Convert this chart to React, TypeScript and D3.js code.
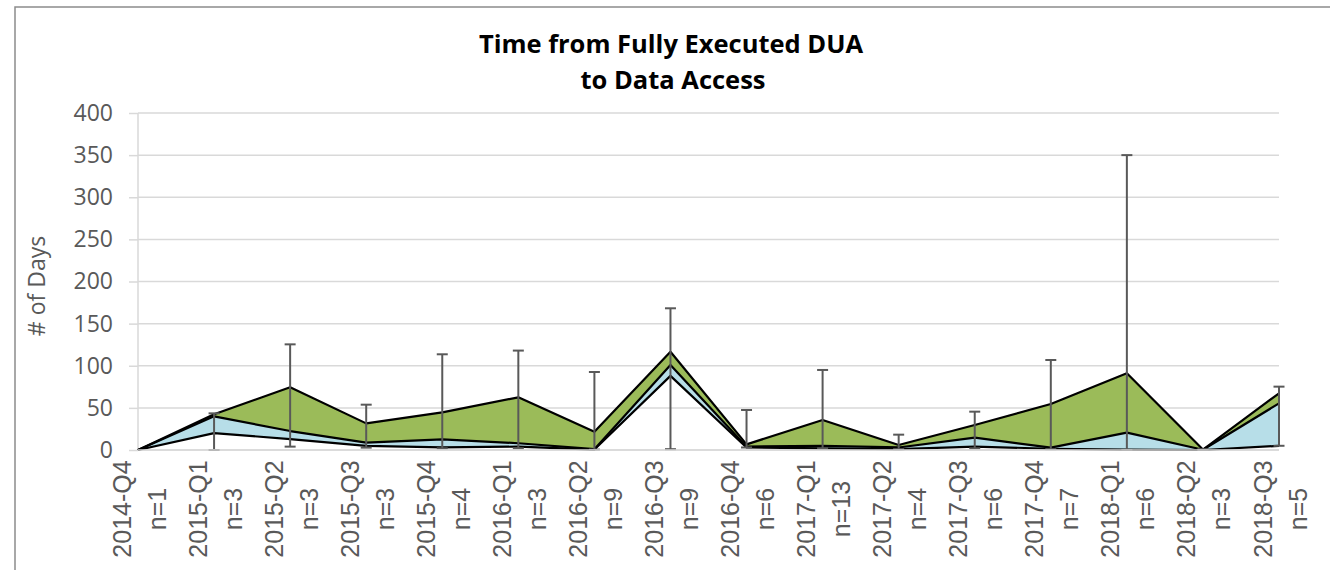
import React, { useEffect, useRef } from 'react';
import * as d3 from 'd3';

const categories = [
  '2014-Q4', '2015-Q1', '2015-Q2', '2015-Q3', '2015-Q4',
  '2016-Q1', '2016-Q2', '2016-Q3', '2016-Q4',
  '2017-Q1', '2017-Q2', '2017-Q3', '2017-Q4',
  '2018-Q1', '2018-Q2', '2018-Q3',
];
const counts = [1, 3, 3, 3, 4, 3, 9, 9, 6, 13, 4, 6, 7, 6, 3, 5];

// lower line, median (top of blue), upper (top of green)
const lowerValues = [0, 20, 13, 5, 3, 4, 0.5, 88, 3, 2, 1, 4, 1.5, 0.5, 0, 5];
const medianValues = [0, 40, 22.5, 8.7, 12.7, 8, 1, 101, 4, 5, 3, 14.6, 2.8, 20.6, 0.3, 55.4];
const upperValues = [0, 42.5, 74.4, 31.6, 44.7, 62.5, 21.8, 116.7, 6.7, 35.6, 6, 29.7, 54.6, 91, 0.5, 67.3];
// error bar ends
const minValues = [0, 0, 4, 2.8, 2, 2, 0.5, 1, 3, 2, 1, 2, 1, 0, 0, 5];
const maxValues = [0, 43.5, 125.4, 53.8, 113.6, 118, 92.6, 168.2, 47.5, 95, 18.2, 45.5, 106.8, 350, 1, 75.2];

const yTicks = [0, 50, 100, 150, 200, 250, 300, 350, 400];

export default function App() {
  const svgRef = useRef<SVGSVGElement>(null);

  useEffect(() => {
    const svg = d3.select(svgRef.current);
    svg.selectAll('*').remove();

    const left = 138;
    const right = 1279;
    const top = 113;
    const bottom = 450;

    const data = categories.map((c, i) => ({
      label: c,
      n: counts[i],
      lo: lowerValues[i],
      med: medianValues[i],
      hi: upperValues[i],
      min: minValues[i],
      max: maxValues[i],
    }));

    const xScale = d3.scalePoint().domain(categories).range([left, right]);
    const yScale = d3.scaleLinear().domain([0, 400]).range([bottom, top]);

    // frame
    svg
      .append('rect')
      .attr('x', 15)
      .attr('y', 7)
      .attr('width', 1340)
      .attr('height', 600)
      .attr('fill', 'white')
      .attr('stroke', '#8c8c8c')
      .attr('stroke-width', 1.5);

    // title
    const title = svg
      .append('text')
      .attr('text-anchor', 'middle')
      .style('font-family', 'Open Sans')
      .style('font-weight', '700')
      .style('font-size', '25.5px')
      .attr('fill', '#000');
    title.append('tspan').attr('x', 671).attr('y', 53).text('Time from Fully Executed DUA');
    title.append('tspan').attr('x', 673).attr('y', 89).text('to Data Access');

    // y axis
    const yAxis = svg
      .append('g')
      .attr('transform', `translate(${left}, 0)`)
      .call(
        d3
          .axisLeft(yScale)
          .tickValues(yTicks)
          .tickSize(9)
          .tickPadding(16)
      );
    yAxis.select('path').remove();
    yAxis.selectAll('line').attr('stroke', '#d9d9d9').attr('stroke-width', 1.5);
    yAxis
      .selectAll('text')
      .style('font-family', 'Open Sans')
      .style('font-size', '23px')
      .attr('fill', '#595959');

    // gridlines
    svg
      .append('g')
      .selectAll('line')
      .data(yTicks)
      .join('line')
      .attr('x1', left)
      .attr('x2', right)
      .attr('y1', (d) => yScale(d))
      .attr('y2', (d) => yScale(d))
      .attr('stroke', '#d9d9d9')
      .attr('stroke-width', 1.5);

    svg
      .append('line')
      .attr('x1', left)
      .attr('x2', left)
      .attr('y1', yScale(400))
      .attr('y2', yScale(0))
      .attr('stroke', '#d9d9d9')
      .attr('stroke-width', 1.5);

    svg
      .append('text')
      .attr('transform', `translate(45, 286) rotate(-90)`)
      .attr('text-anchor', 'middle')
      .style('font-family', 'Open Sans')
      .style('font-size', '23px')
      .attr('fill', '#595959')
      .text('# of Days');

    // areas
    const blueArea = d3
      .area<any>()
      .x((d) => xScale(d.label))
      .y0((d) => yScale(d.lo))
      .y1((d) => yScale(d.med));
    const greenArea = d3
      .area<any>()
      .x((d) => xScale(d.label))
      .y0((d) => yScale(d.med))
      .y1((d) => yScale(d.hi));

    svg.append('path').datum(data).attr('d', blueArea).attr('fill', '#b7dee8');
    svg.append('path').datum(data).attr('d', greenArea).attr('fill', '#9bbb59');

    const lineFor = (key: string) =>
      d3
        .line<any>()
        .x((d) => xScale(d.label))
        .y((d) => yScale(d[key]));

    ['lo', 'med', 'hi'].forEach((key) => {
      svg
        .append('path')
        .datum(data)
        .attr('d', lineFor(key))
        .attr('fill', 'none')
        .attr('stroke', '#000')
        .attr('stroke-width', 2.2)
        .attr('stroke-linejoin', 'round');
    });

    // error bars
    const bars = svg
      .append('g')
      .selectAll('g')
      .data(data.filter((d) => d.max > 0))
      .join('g')
      .attr('stroke', '#595959')
      .attr('stroke-width', 2);
    bars
      .append('line')
      .attr('x1', (d) => xScale(d.label))
      .attr('x2', (d) => xScale(d.label))
      .attr('y1', (d) => yScale(d.min))
      .attr('y2', (d) => yScale(d.max));
    bars
      .append('line')
      .attr('x1', (d) => xScale(d.label) - 5.5)
      .attr('x2', (d) => xScale(d.label) + 5.5)
      .attr('y1', (d) => yScale(d.max))
      .attr('y2', (d) => yScale(d.max));
    bars
      .append('line')
      .attr('x1', (d) => xScale(d.label) - 5.5)
      .attr('x2', (d) => xScale(d.label) + 5.5)
      .attr('y1', (d) => yScale(d.min))
      .attr('y2', (d) => yScale(d.min));

    // x axis
    svg
      .append('line')
      .attr('x1', left)
      .attr('x2', right)
      .attr('y1', bottom)
      .attr('y2', bottom)
      .attr('stroke', '#d9d9d9')
      .attr('stroke-width', 1.5);

    const xLabels = svg
      .append('g')
      .selectAll('g')
      .data(data)
      .join('g')
      .attr('transform', (d) => `translate(${xScale(d.label) + 1}, 509) rotate(-90)`)
      .style('font-family', 'Liberation Sans')
      .style('font-size', '25px')
      .attr('fill', '#595959');
    xLabels
      .append('text')
      .attr('text-anchor', 'middle')
      .attr('dominant-baseline', 'central')
      .attr('y', -17.5)
      .text((d) => d.label);
    xLabels
      .append('text')
      .attr('text-anchor', 'middle')
      .attr('dominant-baseline', 'central')
      .attr('y', 17.5)
      .text((d) => `n=${d.n}`);
  }, []);

  return (
    <svg
      ref={svgRef}
      width={1330}
      height={570}
      style={{ position: 'absolute', left: 0, top: 0, background: 'white' }}
    />
  );
}
